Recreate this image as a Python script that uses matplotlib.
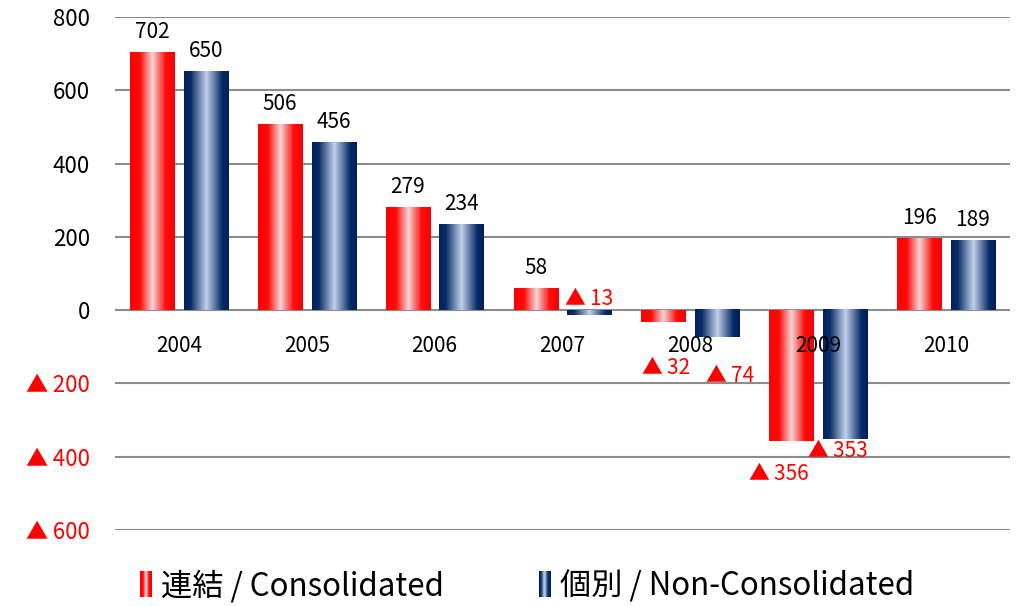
import numpy as np
import matplotlib
matplotlib.use("Agg")
import matplotlib.pyplot as plt
from matplotlib.colors import LinearSegmentedColormap
from matplotlib.patches import Rectangle
from matplotlib.legend_handler import HandlerBase

plt.rcParams['font.family'] = ['Noto Sans CJK JP', 'DejaVu Sans']

years = ['2004', '2005', '2006', '2007', '2008', '2009', '2010']
consolidated = [702, 506, 279, 58, -32, -356, 196]
non_consolidated = [650, 456, 234, -13, -74, -353, 189]
series_names = ['連結 / Consolidated', '個別 / Non-Consolidated']
yticks = [-600, -400, -200, 0, 200, 400, 600, 800]

# label nudges for the negative values (points), the way the original had them
neg_off_red = {3: (0, 0), 4: (2, -33), 5: (-9, -24)}
neg_off_blue = {3: (0, 0), 4: (9, -28), 5: (-5, -8)}

red_cmap = LinearSegmentedColormap.from_list(
    'red', [(0, '#ff0000'), (0.22, '#ff0a0a'), (0.5, '#f2d6d6'), (0.8, '#ff0a0a'), (1, '#ff0000')])
blue_cmap = LinearSegmentedColormap.from_list(
    'blue', [(0, '#00205e'), (0.15, '#0a2a66'), (0.5, '#c0d2ec'), (0.85, '#0a2a66'), (1, '#00205e')])


def neg_label(v):
    return '▲\u2009' + str(-v)


def fill_gradient(ax, bars, cmap):
    grad = np.linspace(0, 1, 256).reshape(1, -1)
    for b in bars:
        x0, y0 = b.get_x(), b.get_y()
        w, h = b.get_width(), b.get_height()
        ax.imshow(grad, cmap=cmap, aspect='auto', extent=(x0, x0 + w, min(y0, y0 + h), max(y0, y0 + h)),
                  zorder=2, interpolation='bicubic')


class GradientHandler(HandlerBase):
    def __init__(self, cmap):
        super().__init__()
        self.cmap = cmap

    def create_artists(self, legend, orig_handle, xdescent, ydescent, width, height, fontsize, trans):
        n = 20
        w = width * 0.45
        x0 = width - w
        arts = []
        for i in range(n):
            r = Rectangle((x0 + i * w / n - xdescent, -ydescent - height * 0.1), w / n + 0.3, height * 1.2,
                          facecolor=self.cmap(i / (n - 1)), edgecolor='none', transform=trans)
            arts.append(r)
        return arts


fig = plt.figure(figsize=(10.2, 6.06), dpi=100)
ax = fig.add_axes([0.1127, 0.1254, 0.8775, 0.8466])

x = np.arange(len(years))
width = 0.345
off = 0.21
b1 = ax.bar(x - off, consolidated, width, color='none', zorder=2)
b2 = ax.bar(x + off, non_consolidated, width, color='none', zorder=2)
fill_gradient(ax, b1, red_cmap)
fill_gradient(ax, b2, blue_cmap)

ax.set_xlim(-0.5, len(years) - 0.5)
ax.set_ylim(-600, 800)
ax.set_yticks(yticks)
ax.set_yticklabels([str(v) if v >= 0 else neg_label(v) for v in yticks])
for lbl, v in zip(ax.get_yticklabels(), yticks):
    lbl.set_color('red' if v < 0 else 'black')
ax.tick_params(axis='y', length=0, pad=18, labelsize=16)
ax.set_xticks([])
ax.grid(axis='y', color='#8c8c8c', linewidth=1.5, zorder=1)
ax.set_axisbelow(True)
for s in ax.spines.values():
    s.set_visible(False)

for i, yr in enumerate(years):
    ax.annotate(yr, (x[i], 0), xytext=(0, -18), textcoords='offset points',
                ha='center', va='top', fontsize=15)

for vals, bars, offs in [(consolidated, b1, neg_off_red), (non_consolidated, b2, neg_off_blue)]:
    for i, (v, b) in enumerate(zip(vals, bars)):
        cx = b.get_x() + b.get_width() / 2
        if v >= 0:
            ax.annotate(str(v), (cx, v), xytext=(0, 7), textcoords='offset points',
                        ha='center', va='bottom', fontsize=15)
        else:
            dx, dy = offs[i]
            if i == 3:
                ax.annotate(neg_label(v), (cx, 0), xytext=(0, 0), textcoords='offset points',
                            ha='center', va='bottom', fontsize=15, color='red')
            else:
                ax.annotate(neg_label(v), (cx, v), xytext=(dx, dy), textcoords='offset points',
                            ha='center', va='center', fontsize=15, color='red')

h1 = Rectangle((0, 0), 1, 1)
h2 = Rectangle((0, 0), 1, 1)
fig.legend([h1, h2], series_names, loc='lower center', bbox_to_anchor=(0.51, -0.04), ncol=2,
           frameon=False, fontsize=22.5, columnspacing=2.6, handlelength=0.8, handletextpad=0.3,
           handler_map={h1: GradientHandler(red_cmap), h2: GradientHandler(blue_cmap)})

fig.savefig('out.png', dpi=100)
